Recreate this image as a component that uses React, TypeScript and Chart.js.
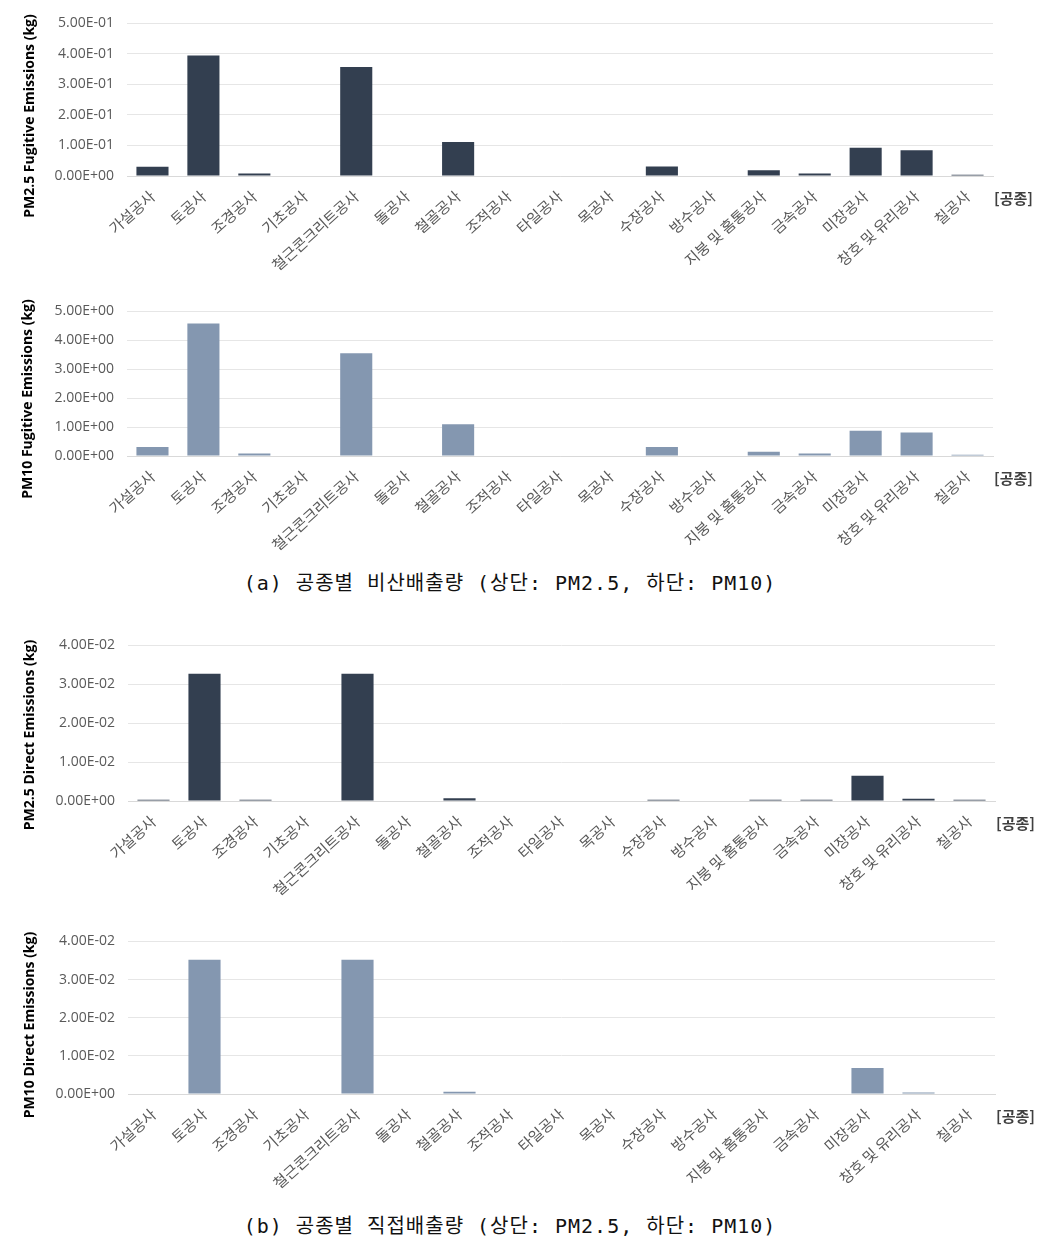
import React, { useEffect, useRef } from "react";
import { Chart, registerables } from "chart.js";

Chart.register(...registerables);

const categories = [
  "가설공사", "토공사", "조경공사", "기초공사", "철근콘크리트공사", "돌공사", "철골공사", "조적공사",
  "타일공사", "목공사", "수장공사", "방수공사", "지붕 및 홈통공사", "금속공사", "미장공사", "창호 및 유리공사", "칠공사",
];

const pm25Fugitive = [0.030, 0.394, 0.008, 0, 0.356, 0, 0.111, 0, 0, 0, 0.031, 0, 0.019, 0.008, 0.092, 0.084, 0.004];
const pm10Fugitive = [0.31, 4.58, 0.09, 0, 3.55, 0, 1.10, 0, 0, 0, 0.31, 0, 0.15, 0.09, 0.87, 0.81, 0.04];
const pm25Direct = [0.0003, 0.0326, 0.0003, 0, 0.0326, 0, 0.0007, 0, 0, 0, 0.0003, 0, 0.0003, 0.0003, 0.0065, 0.0006, 0.0003];
const pm10Direct = [0, 0.0352, 0, 0, 0.0352, 0, 0.0006, 0, 0, 0, 0, 0, 0, 0, 0.0068, 0.0004, 0];

const pm25FugitiveTicks = [0, 0.1, 0.2, 0.3, 0.4, 0.5];
const pm10FugitiveTicks = [0, 1, 2, 3, 4, 5];
const directTicks = [0, 0.01, 0.02, 0.03, 0.04];

const unitLabel = "[공종]";
const captionA = "(a) 공종별 비산배출량 (상단: PM2.5, 하단: PM10)";
const captionB = "(b) 공종별 직접배출량 (상단: PM2.5, 하단: PM10)";

const DARK = "#333F50";
const LIGHT = "#8497B0";

function sci(v: number): string {
  if (v === 0) return "0.00E+00";
  let e = Math.floor(Math.log10(Math.abs(v)) + 1e-9);
  let m = v / Math.pow(10, e);
  if (Math.abs(m) >= 9.995) { m /= 10; e += 1; }
  const s = e < 0 ? "-" : "+";
  return m.toFixed(2) + "E" + s + String(Math.abs(e)).padStart(2, "0");
}

const extrasPlugin = {
  id: "extras",
  afterDraw(chart: any, _args: any, opts: any) {
    const ctx = chart.ctx;
    const area = chart.chartArea;
    ctx.save();
    ctx.translate(opts.titleX, opts.titleCenterY);
    ctx.rotate(-Math.PI / 2);
    ctx.font = "bold 14px 'Open Sans', 'Noto Sans CJK KR', sans-serif";
    ctx.fillStyle = "#000000";
    ctx.textAlign = "center";
    ctx.textBaseline = "middle";
    ctx.fillText(opts.title, 0, 0);
    ctx.restore();
    ctx.save();
    ctx.font = "bold 15px 'Noto Sans CJK KR', sans-serif";
    ctx.fillStyle = "#404040";
    ctx.textAlign = "left";
    ctx.textBaseline = "middle";
    ctx.fillText(unitLabel, area.right + 1, area.bottom + 22);
    ctx.restore();
  },
};

type PanelProps = {
  top: number;
  height: number;
  gridTop: number;
  zeroY: number;
  left: number;
  right: number;
  values: number[];
  ticks: number[];
  color: string;
  title: string;
  titleX: number;
  titleCenterY: number;
};

function BarPanel(p: PanelProps) {
  const ref = useRef<HTMLCanvasElement | null>(null);
  useEffect(() => {
    if (!ref.current) return;
    const xh = p.top + p.height - p.zeroY;
    const chart = new Chart(ref.current, {
      type: "bar",
      data: {
        labels: categories,
        datasets: [
          {
            data: p.values,
            backgroundColor: p.color,
            borderWidth: 0,
            categoryPercentage: 1,
            barPercentage: 0.63,
          },
        ],
      },
      options: {
        responsive: false,
        animation: false,
        devicePixelRatio: 1,
        layout: { padding: { top: p.gridTop - p.top, left: 0, right: 1048 - p.right, bottom: 0 } },
        plugins: {
          legend: { display: false },
          tooltip: { enabled: false },
          extras: { title: p.title, titleX: p.titleX, titleCenterY: p.titleCenterY - p.top },
        } as any,
        scales: {
          x: {
            grid: { display: false, drawTicks: false },
            border: { display: true, color: "#d9d9d9", width: 1 },
            ticks: {
              autoSkip: false,
              maxRotation: 42,
              minRotation: 42,
              padding: 11,
              color: "#595959",
              font: { family: "'Noto Sans CJK KR', sans-serif", size: 15 },
            },
            afterFit: (scale: any) => { scale.height = xh; },
          },
          y: {
            min: 0,
            max: p.ticks[p.ticks.length - 1],
            grid: { color: "#e6e6e6", drawTicks: false },
            border: { display: false },
            ticks: {
              padding: 13,
              color: "#595959",
              font: { family: "'Open Sans', sans-serif", size: 14 },
              callback: (v: any) => sci(Number(v)),
            },
            afterBuildTicks: (scale: any) => {
              scale.ticks = p.ticks.map((v) => ({ value: v }));
            },
            afterFit: (scale: any) => { scale.width = p.left; },
          },
        },
      },
      plugins: [extrasPlugin],
    } as any);
    return () => chart.destroy();
  }, []);
  return (
    <div style={{ position: "absolute", left: 0, top: p.top, width: 1048, height: p.height }}>
      <canvas ref={ref} width={1048} height={p.height} style={{ display: "block", width: 1048, height: p.height }} />
    </div>
  );
}

function Caption({ text, centerY }: { text: string; centerY: number }) {
  return (
    <div
      style={{
        position: "absolute",
        left: 0,
        width: 1020,
        top: centerY - 14,
        height: 28,
        lineHeight: "28px",
        textAlign: "center",
        fontFamily: "'DejaVu Sans Mono', 'Noto Sans CJK KR', monospace",
        fontSize: 20,
        letterSpacing: 1,
        color: "#111",
        whiteSpace: "pre",
      }}
    >
      {text}
    </div>
  );
}

export default function App() {
  return (
    <div style={{ position: "absolute", left: 0, top: 0, width: 1048, height: 1246, overflow: "hidden", background: "#fff" }}>
      <BarPanel top={0} height={290} gridTop={23} zeroY={176} left={127} right={993}
        values={pm25Fugitive} ticks={pm25FugitiveTicks} color={DARK}
        title="PM2.5 Fugitive Emissions (kg)" titleX={30} titleCenterY={116} />
      <BarPanel top={290} height={270} gridTop={309} zeroY={456} left={127} right={993}
        values={pm10Fugitive} ticks={pm10FugitiveTicks} color={LIGHT}
        title="PM10 Fugitive Emissions (kg)" titleX={28} titleCenterY={399} />
      <Caption text={captionA} centerY={583} />
      <BarPanel top={600} height={320} gridTop={645} zeroY={801} left={128} right={995}
        values={pm25Direct} ticks={directTicks} color={DARK}
        title="PM2.5 Direct Emissions (kg)" titleX={30} titleCenterY={735} />
      <BarPanel top={920} height={290} gridTop={938} zeroY={1094} left={128} right={995}
        values={pm10Direct} ticks={directTicks} color={LIGHT}
        title="PM10 Direct Emissions (kg)" titleX={30} titleCenterY={1025} />
      <Caption text={captionB} centerY={1226} />
    </div>
  );
}
